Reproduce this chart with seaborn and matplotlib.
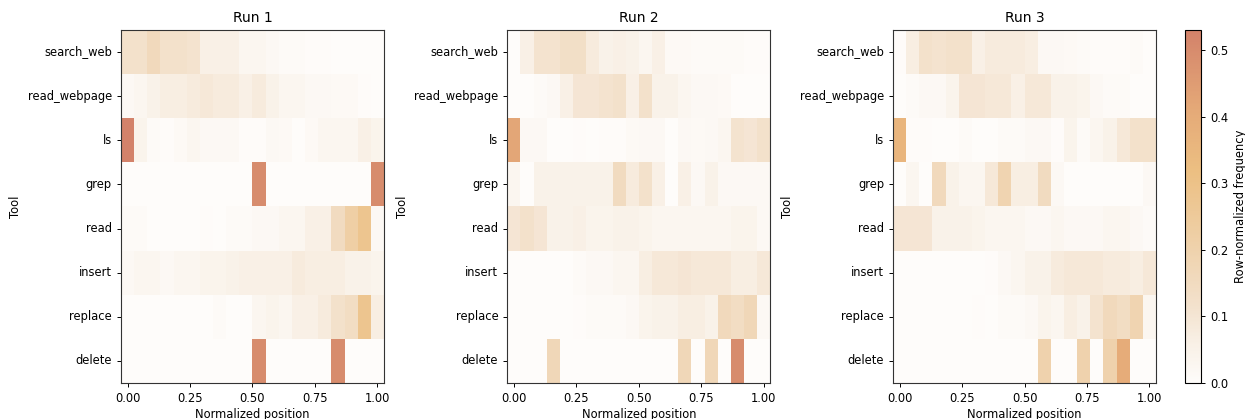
import matplotlib
matplotlib.use("Agg")
import matplotlib.pyplot as plt
import numpy as np
import pandas as pd
import seaborn as sns
from matplotlib.colors import LinearSegmentedColormap

# --------------------------------------------------------------------------
# Data: row-normalized frequency of each tool over 20 position bins
# --------------------------------------------------------------------------
tools = ["search_web", "read_webpage", "ls", "grep", "read", "insert", "replace", "delete"]
run_titles = ["Run 1", "Run 2", "Run 3"]
x_tick_labels = ["0.00", "0.25", "0.50", "0.75", "1.00"]

run1_values = [
    [0.12, 0.12, 0.16, 0.12, 0.12, 0.11, 0.06, 0.06, 0.06, 0.03, 0.03, 0.02, 0.01, 0.01, 0.005, 0.005, 0, 0, 0, 0],
    [0.02, 0.03, 0.05, 0.07, 0.07, 0.08, 0.09, 0.08, 0.08, 0.06, 0.08, 0.05, 0.03, 0.03, 0.02, 0.02, 0.015, 0.015, 0.005, 0],
    [0.53, 0.04, 0.01, 0.005, 0.015, 0.03, 0.02, 0.02, 0.02, 0.005, 0.005, 0.02, 0.015, 0, 0.015, 0.03, 0.03, 0.03, 0.06, 0.04],
    [0, 0, 0, 0, 0, 0, 0, 0, 0, 0, 0.5, 0, 0, 0, 0, 0, 0, 0, 0, 0.5],
    [0.01, 0.01, 0, 0, 0, 0, 0.005, 0, 0.01, 0.01, 0.02, 0.02, 0.03, 0.03, 0.06, 0.06, 0.15, 0.22, 0.28, 0.02],
    [0.02, 0.03, 0.03, 0.02, 0.03, 0.03, 0.04, 0.04, 0.05, 0.06, 0.06, 0.06, 0.06, 0.08, 0.07, 0.07, 0.07, 0.05, 0.05, 0.04],
    [0, 0, 0, 0, 0, 0, 0, 0.01, 0, 0, 0.03, 0.04, 0.03, 0.06, 0.06, 0.08, 0.12, 0.14, 0.28, 0.07],
    [0, 0, 0, 0, 0, 0, 0, 0, 0, 0, 0.5, 0, 0, 0, 0, 0, 0.5, 0, 0, 0],
]

run2_values = [
    [0, 0.06, 0.11, 0.11, 0.13, 0.13, 0.08, 0.05, 0.06, 0.05, 0.03, 0.06, 0.015, 0.015, 0.01, 0.01, 0.01, 0.01, 0.005, 0.005],
    [0, 0, 0.01, 0.02, 0.06, 0.10, 0.10, 0.11, 0.12, 0.06, 0.12, 0.05, 0.05, 0.03, 0.02, 0.02, 0.015, 0, 0, 0],
    [0.42, 0.02, 0.02, 0, 0, 0.005, 0, 0.005, 0.005, 0.015, 0.02, 0.02, 0, 0.02, 0.015, 0.02, 0.03, 0.11, 0.10, 0.12],
    [0.03, 0, 0.05, 0.05, 0.05, 0.05, 0.05, 0.05, 0.15, 0.08, 0.12, 0.06, 0, 0.06, 0.02, 0.05, 0.02, 0.02, 0.02, 0.02],
    [0.10, 0.12, 0.10, 0.05, 0.05, 0.06, 0.04, 0.04, 0.05, 0.05, 0.04, 0.03, 0.03, 0.03, 0.03, 0.03, 0.03, 0.04, 0.04, 0.02],
    [0, 0, 0, 0, 0, 0.01, 0.02, 0.02, 0.03, 0.03, 0.07, 0.09, 0.09, 0.10, 0.09, 0.09, 0.09, 0.07, 0.07, 0.09],
    [0, 0, 0, 0, 0, 0.005, 0.01, 0.01, 0.01, 0.02, 0.04, 0.05, 0.05, 0.07, 0.07, 0.05, 0.16, 0.14, 0.17, 0.02],
    [0, 0, 0, 0.17, 0, 0, 0, 0, 0, 0, 0, 0, 0, 0.17, 0, 0.17, 0, 0.5, 0, 0],
]

run3_values = [
    [0.005, 0.07, 0.12, 0.11, 0.12, 0.12, 0.06, 0.08, 0.08, 0.08, 0.07, 0.02, 0.02, 0.015, 0.01, 0.005, 0.005, 0.005, 0.01, 0],
    [0, 0.01, 0.02, 0.02, 0.04, 0.10, 0.10, 0.09, 0.09, 0.06, 0.09, 0.09, 0.05, 0.05, 0.04, 0.02, 0.01, 0.01, 0, 0],
    [0.36, 0.005, 0.005, 0, 0, 0.01, 0, 0, 0.01, 0.01, 0.02, 0.02, 0.005, 0.04, 0.01, 0.03, 0.05, 0.09, 0.12, 0.12],
    [0, 0.03, 0, 0.16, 0.05, 0.03, 0.03, 0.09, 0.19, 0.07, 0.07, 0.15, 0.02, 0, 0, 0, 0, 0, 0, 0.02],
    [0.10, 0.10, 0.10, 0.05, 0.05, 0.05, 0.04, 0.03, 0.03, 0.03, 0.02, 0.02, 0.03, 0.02, 0.02, 0.02, 0.03, 0.03, 0.02, 0.01],
    [0, 0, 0, 0, 0, 0, 0, 0.005, 0.02, 0.03, 0.05, 0.05, 0.08, 0.09, 0.09, 0.09, 0.08, 0.08, 0.07, 0.09],
    [0, 0, 0, 0, 0, 0, 0.005, 0, 0.01, 0.01, 0.02, 0.04, 0.03, 0.07, 0.05, 0.11, 0.16, 0.14, 0.19, 0.03],
    [0, 0, 0, 0, 0, 0, 0, 0, 0, 0, 0, 0.2, 0, 0, 0.2, 0, 0.2, 0.4, 0, 0],
]

runs = [run1_values, run2_values, run3_values]
n_bins = len(run1_values[0])
bin_centers = np.linspace(0, 1, n_bins)

cmap = LinearSegmentedColormap.from_list(
    "sand",
    [(0.0, "#fefcfa"), (0.12, "#f8efe4"), (0.22, "#f3e1cc"), (0.38, "#efd2ac"),
     (0.6, "#ecbf82"), (0.77, "#e5aa78"), (1.0, "#d3826a")],
)
vmax = max(np.max(r) for r in runs)

FS = 8.3
fig = plt.figure(figsize=(12.45, 4.19), dpi=100)

lefts = [0.0972, 0.4075, 0.7173]
axes = [fig.add_axes([l, 0.086, 0.2112, 0.8425]) for l in lefts]
cax = fig.add_axes([0.9518, 0.086, 0.0129, 0.8425])

for ax, values, title in zip(axes, runs, run_titles):
    df = pd.DataFrame(values, index=tools, columns=np.round(bin_centers, 3))
    sns.heatmap(df, ax=ax, cmap=cmap, vmin=0, vmax=vmax, cbar=False)
    for spine in ax.spines.values():
        spine.set_visible(True)
        spine.set_color("#333333")
        spine.set_linewidth(0.8)
    tick_pos = [0.5 + (n_bins - 1) * float(t) for t in x_tick_labels]
    ax.set_xticks(tick_pos)
    ax.set_xticklabels(x_tick_labels, rotation=0)
    ax.set_yticks(np.arange(len(tools)) + 0.5)
    ax.set_yticklabels(tools, rotation=0)
    ax.tick_params(labelsize=FS, length=3, width=0.7)
    ax.set_title(title, fontsize=10)
    ax.set_xlabel("Normalized position", fontsize=FS, labelpad=2)
    ax.set_ylabel("Tool", fontsize=FS)

sm = plt.cm.ScalarMappable(cmap=cmap, norm=plt.Normalize(0, vmax))
cbar = fig.colorbar(sm, cax=cax)
cbar.set_label("Row-normalized frequency", fontsize=FS)
cbar.set_ticks([0.0, 0.1, 0.2, 0.3, 0.4, 0.5])
cbar.ax.tick_params(labelsize=FS, length=3, width=0.7)
cbar.outline.set_linewidth(0.8)

fig.savefig("out.png", dpi=100)
